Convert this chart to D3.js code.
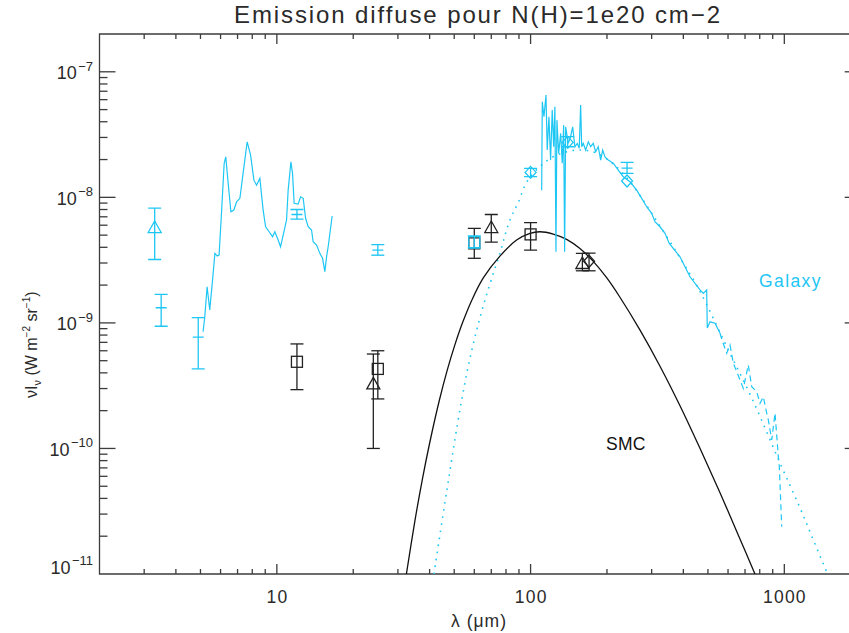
<!DOCTYPE html>
<html><head><meta charset="utf-8">
<script src="https://cdn.jsdelivr.net/npm/d3@7"></script>
<style>
body{margin:0;background:#fff}
svg{display:block}
text{font-family:"Liberation Sans",Arial,Helvetica,sans-serif}
</style>
</head><body>
<svg id="c" width="849" height="633"></svg>
<script>
// ---------------- DATA ----------------
const xDomain = [2, 2000];
const yDomain = [1e-11, 2e-7];
const xTickValues = [10, 100, 1000];
const xTickLabels = ["10", "100", "1000"];
const yTickValues = [1e-11, 1e-10, 1e-9, 1e-8, 1e-7];
const yTickExponents = ["\u221211", "\u221210", "\u22129", "\u22128", "\u22127"];

// Galaxy photometry (cyan)
const galLam = [3.3, 3.5, 4.9, 12, 25, 60, 100, 140, 240, 240];
const galVal = [5.8e-9, 1.32e-9, 7.7e-10, 7.3e-9, 3.8e-9, 4.4e-9, 1.58e-8, 2.74e-8, 1.71e-8, 1.35e-8];
const galLo  = [3.2e-9, 9.4e-10, 4.3e-10, 6.7e-9, 3.46e-9, 3.95e-9, 1.46e-8, 2.53e-8, 1.55e-8, null];
const galHi  = [8.2e-9, 1.69e-9, 1.1e-9, 8.0e-9, 4.2e-9, 4.92e-9, 1.70e-8, 3.04e-8, 1.9e-8, null];
const galSym = ["triangle", "dash", "dash", "dash", "dash", "square", "diamond", "diamond", "dash", "diamond"];

// SMC photometry (black)
const smcLam = [12, 24, 25, 60, 70, 100, 160, 170];
const smcVal = [4.9e-10, 3.3e-10, 4.3e-10, 4.3e-9, 5.8e-9, 5.07e-9, 3.0e-9, 3.1e-9];
const smcLo  = [2.94e-10, 1.0e-10, 2.48e-10, 3.27e-9, 4.4e-9, 3.8e-9, 2.6e-9, 2.6e-9];
const smcHi  = [6.8e-10, 5.65e-10, 6.0e-10, 5.66e-9, 7.3e-9, 6.3e-9, 3.58e-9, 3.6e-9];
const smcSym = ["square", "triangle", "square", "square", "triangle", "square", "triangle", "diamond"];

// SMC model (black solid)
const smcModelLam = [32.4, 35, 37.5, 40, 43.7, 47, 50.3, 54, 58.6, 65.1, 75.7, 88.1, 99.4, 108.9, 122.8, 138.7, 156.5, 176.6, 199.4, 225, 270, 323.6, 388, 465.6, 557.9, 668, 771];
const smcModelVal = [1.0e-11, 2.65e-11, 5.75e-11, 1.10e-10, 2.42e-10, 4.24e-10, 6.68e-10, 1.01e-9, 1.51e-9, 2.28e-9, 3.40e-9, 4.57e-9, 5.17e-9, 5.32e-9, 5.1e-9, 4.63e-9, 3.91e-9, 3.09e-9, 2.29e-9, 1.60e-9, 8.75e-10, 4.52e-10, 2.19e-10, 9.98e-11, 4.43e-11, 1.91e-11, 9.7e-12];

// Galaxy model (cyan dotted)
const galModelLam = [41.6, 46.8, 53.5, 59.3, 66.1, 75.7, 82.9, 89.2, 97.6, 115.7, 132.9, 153.7, 179.3, 209.3, 246.5, 303.6, 388, 465.2, 594.4, 752.6, 961.6, 1153, 1301, 1480];
const galModelVal = [1.0e-11, 4.67e-11, 2.43e-10, 6.67e-10, 1.52e-9, 3.6e-9, 6.6e-9, 9.0e-9, 1.37e-8, 1.95e-8, 2.25e-8, 2.38e-8, 2.28e-8, 1.88e-8, 1.33e-8, 7.2e-9, 3.3e-9, 1.78e-9, 6.4e-10, 2.4e-10, 7.66e-11, 3.36e-11, 1.87e-11, 1.0e-11];

// Galaxy mid-IR spectrum (cyan solid)
const mirLam = [5.12,5.20,5.31,5.44,5.58,5.70,5.82,5.92,6.05,6.20,6.29,6.43,6.59,6.77,6.94,7.15,7.36,7.64,7.88,8.12,8.32,8.57,8.83,9.03,9.32,9.62,9.82,10.12,10.34,10.66,10.92,11.08,11.36,11.53,11.70,12.13,12.40,12.70,12.98,13.29,13.70,13.90,14.34,14.77,15.14,15.46,15.70,15.93,16.52];
const mirVal = [8.51e-10,1.12e-9,1.94e-9,1.27e-9,2.20e-9,3.58e-9,3.41e-9,3.47e-9,7.46e-9,1.87e-8,2.10e-8,1.29e-8,7.68e-9,7.92e-9,9.23e-9,9.82e-9,1.55e-8,2.77e-8,2.17e-8,1.37e-8,1.25e-8,1.42e-8,7.92e-9,5.83e-9,5.32e-9,4.86e-9,5.32e-9,4.57e-9,4.04e-9,5.32e-9,6.60e-9,1.14e-8,1.92e-8,1.55e-8,8.96e-9,8.84e-9,1.01e-8,9.82e-9,6.81e-9,5.83e-9,5.49e-9,4.43e-9,4.17e-9,3.58e-9,3.27e-9,2.56e-9,3.36e-9,4.04e-9,7.10e-9];

// Galaxy far-IR spectrum (cyan solid)
const firLam = [110.6,111.2,112.9,115.0,116.3,118.1,119.9,121.7,123.3,124.7,125.9,127.0,129.0,131.4,133.3,135.0,136.2,137.5,140.7,143.8,146.5,149.5,152.7,155.5,157.5,159.0,161.3,164.8,168.8,172.5,176.6,180.5,184.8,188.9,192.4,196.4,202.4,211.8,221.6,231.9,246.5,261.9,274.1,286.8,300.1,309.2,323.6,338.6,352.1,388.0,424.9,465.2,479.4,494.3,497,509.6,533.3,557.9];
const firVal = [1.14e-8,5.77e-8,4.38e-8,6.52e-8,2.38e-8,4.38e-8,1.98e-8,4.96e-8,2.53e-8,5.26e-8,3.69e-9,4.12e-8,2.24e-8,3.23e-8,1.87e-8,3.76e-8,3.69e-9,3.65e-8,2.69e-8,3.04e-8,3.65e-8,2.53e-8,2.69e-8,2.46e-8,5.43e-8,2.53e-8,2.69e-8,2.38e-8,2.77e-8,2.53e-8,2.69e-8,2.31e-8,2.53e-8,1.98e-8,2.38e-8,2.10e-8,1.98e-8,1.87e-8,1.65e-8,1.46e-8,1.33e-8,1.14e-8,9.82e-9,8.42e-9,7.46e-9,6.39e-9,5.83e-9,5.17e-9,4.30e-9,3.36e-9,2.33e-9,1.83e-9,1.72e-9,1.83e-9,9.1e-10,1.02e-9,9.93e-10,8.27e-10];

// Galaxy far-IR spectrum noisy tail (cyan dashed)
const tailLam = [557.9,568.1,592.8,610.9,629.3,649.1,669.0,689.2,721.3,743.9,778.4,802.1,826.5,852.4,864.9,892.0,919.1,947.0,955.6,976.7];
const tailVal = [8.27e-10,7.31e-10,5.73e-10,6.67e-10,4.77e-10,4.09e-10,3.51e-10,3.01e-10,4.62e-10,3.10e-10,2.83e-10,2.29e-10,2.58e-10,1.91e-10,1.69e-10,1.17e-10,1.91e-10,8.60e-11,7.16e-11,2.38e-11];

// ---------------- DRAW ----------------
const W = 849, H = 633;
const L = 99.5, R = 860.7, T = 34, B = 574;
const x = d3.scaleLog().domain(xDomain).range([L, R]);
const y = d3.scaleLog().domain(yDomain).range([B, T]);
const CYAN = "#1ec6f4", INK = "#111", AX = "#3c3c3c", TXT = "#2a2a2a";

const svg = d3.select("#c");
svg.append("rect").attr("width", W).attr("height", H).attr("fill", "#fff");
svg.append("defs").append("clipPath").attr("id", "clip")
  .append("rect").attr("x", L).attr("y", T).attr("width", R - L).attr("height", B - T);

// frame + ticks
const ax = svg.append("g").attr("stroke", AX).attr("stroke-width", 1.3).attr("fill", "none");
ax.append("path").attr("d", `M${L},${T}V${B}H${R}V${T}Z`);
const xt = [];
for (let k = 0; k <= 3; k++) for (let m = 1; m <= 9; m++) {
  const v = m * Math.pow(10, k);
  if (v > xDomain[0] * 1.0001 && v < xDomain[1] * 0.9999) xt.push({v, major: m === 1});
}
xt.forEach(t => {
  const px = x(t.v), len = t.major ? 10 : 5;
  ax.append("line").attr("x1", px).attr("x2", px).attr("y1", B).attr("y2", B - len);
  ax.append("line").attr("x1", px).attr("x2", px).attr("y1", T).attr("y2", T + len);
});
const yt = [];
for (let k = -11; k <= -7; k++) for (let m = 1; m <= 9; m++) {
  const v = m * Math.pow(10, k);
  if (v > yDomain[0] * 1.0001 && v < yDomain[1] * 0.9999) yt.push({v, major: m === 1});
}
yt.forEach(t => {
  const py = y(t.v), len = t.major ? 16 : 8;
  ax.append("line").attr("x1", L).attr("x2", L + len).attr("y1", py).attr("y2", py);
  ax.append("line").attr("x1", R).attr("x2", R - len).attr("y1", py).attr("y2", py);
});

// tick labels
const xl = svg.append("g").attr("fill", TXT).attr("font-size", 17.5).attr("letter-spacing", 1.2);
xTickValues.forEach((v, i) => {
  xl.append("text").attr("x", x(v) + 0.6).attr("y", 602.7).attr("text-anchor", "middle").text(xTickLabels[i]);
});
const yl = svg.append("g").attr("fill", TXT).attr("font-size", 18);
yTickValues.forEach((v, i) => {
  const base = (i === 0) ? B : y(v) + 7.6;
  const t = yl.append("text").attr("x", 93).attr("y", base).attr("text-anchor", "end");
  t.append("tspan").text("10");
  t.append("tspan").attr("dy", -8.6).attr("font-size", 13).attr("dx", 1.5).text(yTickExponents[i]);
});

// axis titles
svg.append("text").attr("x", 477).attr("y", 23).attr("text-anchor", "middle")
  .attr("font-size", 24).attr("fill", TXT).attr("textLength", 486).attr("lengthAdjust", "spacing")
  .text("Emission diffuse pour N(H)=1e20 cm\u22122");
svg.append("text").attr("x", 479).attr("y", 627).attr("text-anchor", "middle")
  .attr("font-size", 17.5).attr("fill", TXT).attr("letter-spacing", 1).text("\u03bb (\u03bcm)");
const ylab = svg.append("text").attr("transform", "translate(37,398) rotate(-90)")
  .attr("text-anchor", "start").attr("font-size", 16).attr("fill", TXT);
ylab.append("tspan").text("\u03bdI");
ylab.append("tspan").attr("font-size", 11).attr("dy", 4).text("\u03bd");
ylab.append("tspan").attr("dy", -4).text("  (W m");
ylab.append("tspan").attr("font-size", 10).attr("dy", -7).text("\u22122");
ylab.append("tspan").attr("dy", 7).text(" sr");
ylab.append("tspan").attr("font-size", 10).attr("dy", -7).text("\u22121");
ylab.append("tspan").attr("dy", 7).text(")");

// curves
const plot = svg.append("g").attr("clip-path", "url(#clip)");
const lineLin = d3.line().x(d => x(d[0])).y(d => y(d[1]));
const lineSmooth = d3.line().x(d => x(d[0])).y(d => y(d[1])).curve(d3.curveCatmullRom.alpha(0.5));

plot.append("path").datum(d3.zip(galModelLam, galModelVal)).attr("d", lineSmooth)
  .attr("fill", "none").attr("stroke", CYAN).attr("stroke-width", 1.6).attr("stroke-dasharray", "1.6,5.5");
plot.append("path").datum(d3.zip(smcModelLam, smcModelVal)).attr("d", lineSmooth)
  .attr("fill", "none").attr("stroke", INK).attr("stroke-width", 1.3);
plot.append("path").datum(d3.zip(mirLam, mirVal)).attr("d", lineLin)
  .attr("fill", "none").attr("stroke", CYAN).attr("stroke-width", 1.2);
plot.append("path").datum(d3.zip(firLam, firVal)).attr("d", lineLin)
  .attr("fill", "none").attr("stroke", CYAN).attr("stroke-width", 1.2);
plot.append("path").datum(d3.zip(tailLam, tailVal)).attr("d", lineLin)
  .attr("fill", "none").attr("stroke", CYAN).attr("stroke-width", 1.2).attr("stroke-dasharray", "6,4");

// symbols and error bars
function drawPoints(lam, val, lo, hi, sym, color, sw) {
  const g = plot.append("g").attr("stroke", color).attr("stroke-width", sw).attr("fill", "none");
  lam.forEach((l, i) => {
    const px = x(l), py = y(val[i]);
    if (lo[i] !== null) {
      const y1 = y(lo[i]), y2 = y(hi[i]);
      g.append("line").attr("x1", px).attr("x2", px).attr("y1", y1).attr("y2", y2);
      g.append("line").attr("x1", px - 6.5).attr("x2", px + 6.5).attr("y1", y1).attr("y2", y1);
      g.append("line").attr("x1", px - 6.5).attr("x2", px + 6.5).attr("y1", y2).attr("y2", y2);
    }
    const s = sym[i];
    if (s === "square") g.append("rect").attr("x", px - 5.5).attr("y", py - 5.5).attr("width", 11).attr("height", 11);
    else if (s === "triangle") g.append("path").attr("d", `M${px},${py - 6}L${px + 6.5},${py + 5.5}L${px - 6.5},${py + 5.5}Z`);
    else if (s === "diamond") g.append("path").attr("d", `M${px},${py - 6}L${px + 5.5},${py}L${px},${py + 6}L${px - 5.5},${py}Z`);
    else if (s === "dash") g.append("line").attr("x1", px - 5.5).attr("x2", px + 5.5).attr("y1", py).attr("y2", py);
  });
}
drawPoints(smcLam, smcVal, smcLo, smcHi, smcSym, "#222", 1.3);
drawPoints(galLam, galVal, galLo, galHi, galSym, CYAN, 1.3);

// labels
svg.append("text").attr("x", 759).attr("y", 287).attr("font-size", 17.5).attr("fill", CYAN)
  .attr("letter-spacing", 1.4).text("Galaxy");
svg.append("text").attr("x", 606).attr("y", 450).attr("font-size", 17.5).attr("fill", "#111")
  .attr("letter-spacing", 0.3).text("SMC");
</script>
</body></html>
